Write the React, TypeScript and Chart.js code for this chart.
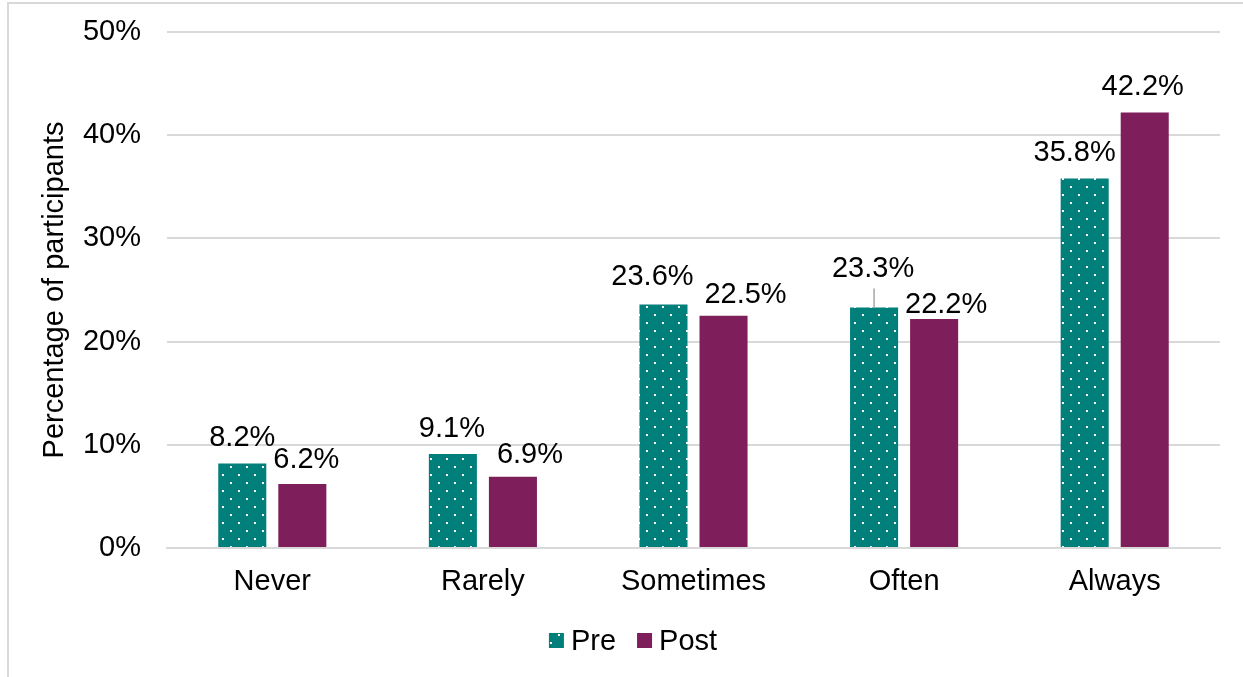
import { useEffect, useRef } from "react";
import { Chart, registerables } from "chart.js";

Chart.register(...registerables);

// ---- data ----
const categories = ["Never", "Rarely", "Sometimes", "Often", "Always"];
const seriesNames = ["Pre", "Post"];
const preValues = [8.2, 9.1, 23.6, 23.3, 35.8];
const postValues = [6.2, 6.9, 22.5, 22.2, 42.2];
const yMin = 0;
const yMax = 50;
const yStep = 10;
const yTitle = "Percentage of participants";

// ---- style ----
const FONT = "'Liberation Sans', Arial, Helvetica, sans-serif";
const FONT_SIZE = 29;
const TEXT_COLOR = "#000000";
const GRID_COLOR = "#d9d9d9";
const PRE_COLOR = "#007f7b";
const POST_COLOR = "#7e1e5a";
const FRAME_LEFT = 7;
const FRAME_TOP = 2;
const FRAME_WIDTH = 1252;

// Per-label nudges [dx, dy] for value labels, plus leader-line flags
const labelNudges: [number, number][][] = [
  [[0, 0], [-1, 0], [-11, -2], [-1, -14], [-10, -1]],
  [[4, 1], [17, 3], [22, 4], [12, 11], [-2, 0]],
];
const leaderLines: boolean[][] = [
  [false, false, false, true, false],
  [false, false, false, false, false],
];

function makeDotPattern(ctx: CanvasRenderingContext2D): CanvasPattern | string {
  const tile = document.createElement("canvas");
  tile.width = 16;
  tile.height = 16;
  const t = tile.getContext("2d");
  if (!t) return PRE_COLOR;
  t.fillStyle = PRE_COLOR;
  t.fillRect(0, 0, 16, 16);
  t.fillStyle = "#ffffff";
  t.fillRect(6, 2, 2, 2);
  t.fillRect(14, 10, 2, 2);
  return ctx.createPattern(tile, "repeat") || PRE_COLOR;
}

const valueLabelPlugin = {
  id: "valueLabels",
  afterDatasetsDraw(chart: any) {
    const ctx: CanvasRenderingContext2D = chart.ctx;
    ctx.save();
    ctx.font = `${FONT_SIZE}px ${FONT}`;
    ctx.fillStyle = TEXT_COLOR;
    ctx.textAlign = "center";
    ctx.textBaseline = "alphabetic";
    chart.data.datasets.forEach((ds: any, di: number) => {
      const meta = chart.getDatasetMeta(di);
      meta.data.forEach((bar: any, i: number) => {
        const v = ds.data[i];
        const [dx, dy] = labelNudges[di][i];
        const x = bar.x + dx;
        const y = bar.y - 17 + dy;
        if (leaderLines[di][i]) {
          ctx.save();
          ctx.strokeStyle = "#a6a6a6";
          ctx.lineWidth = 1.5;
          ctx.beginPath();
          ctx.moveTo(bar.x, y + 12);
          ctx.lineTo(bar.x, bar.y);
          ctx.stroke();
          ctx.restore();
        }
        ctx.fillText(`${v.toFixed(1)}%`, x, y);
      });
    });
    ctx.restore();
  },
};

const customLegendPlugin = {
  id: "customLegend",
  afterDraw(chart: any) {
    const ctx: CanvasRenderingContext2D = chart.ctx;
    ctx.save();
    ctx.font = `${FONT_SIZE}px ${FONT}`;
    const box = 15;
    const gapText = 7;
    const gapItem = 21;
    const widths = chart.data.datasets.map((d: any) => ctx.measureText(d.label).width);
    let total = 0;
    widths.forEach((w: number, i: number) => {
      total += box + gapText + w + (i < widths.length - 1 ? gapItem : 0);
    });
    const centerX = FRAME_LEFT + FRAME_WIDTH / 2;
    const baseline = 649.5;
    let x = centerX - total / 2;
    chart.data.datasets.forEach((d: any, i: number) => {
      ctx.fillStyle = d.backgroundColor;
      ctx.fillRect(x, baseline - 16.5, box, box);
      x += box + gapText;
      ctx.fillStyle = TEXT_COLOR;
      ctx.textAlign = "left";
      ctx.textBaseline = "alphabetic";
      ctx.fillText(d.label, x, baseline);
      x += widths[i] + gapItem;
    });
    ctx.restore();
  },
};

export default function App() {
  const canvasRef = useRef<HTMLCanvasElement | null>(null);

  useEffect(() => {
    const canvas = canvasRef.current;
    if (!canvas) return;
    const ctx = canvas.getContext("2d");
    if (!ctx) return;
    Chart.defaults.font.family = FONT;
    Chart.defaults.font.size = FONT_SIZE;
    Chart.defaults.color = TEXT_COLOR;

    const chart = new Chart(canvas, {
      type: "bar",
      data: {
        labels: categories,
        datasets: [
          {
            label: seriesNames[0],
            data: preValues,
            backgroundColor: makeDotPattern(ctx) as any,
            borderWidth: 0,
            categoryPercentage: 0.5703,
            barPercentage: 0.8,
          },
          {
            label: seriesNames[1],
            data: postValues,
            backgroundColor: POST_COLOR,
            borderWidth: 0,
            categoryPercentage: 0.5703,
            barPercentage: 0.8,
          },
        ],
      },
      options: {
        responsive: false,
        animation: false,
        devicePixelRatio: 1,
        layout: { padding: { left: 30, right: 23, top: 32, bottom: 0 } },
        plugins: {
          legend: { display: false },
          tooltip: { enabled: false },
        },
        scales: {
          x: {
            grid: { display: false, drawTicks: false },
            border: { display: true, color: GRID_COLOR, width: 2 },
            ticks: { padding: 17, color: TEXT_COLOR, font: { size: FONT_SIZE } },
            afterFit: (scale: any) => {
              scale.height = 129;
            },
          },
          y: {
            min: yMin,
            max: yMax,
            grid: {
              color: GRID_COLOR,
              lineWidth: 2,
              drawTicks: true,
              tickLength: 26,
              tickColor: "rgba(0,0,0,0)",
            },
            border: { display: false },
            ticks: {
              stepSize: yStep,
              padding: 0,
              color: TEXT_COLOR,
              font: { size: FONT_SIZE },
              callback: (v: any) => `${v}%`,
            },
            title: {
              display: true,
              text: yTitle,
              color: TEXT_COLOR,
              font: { size: FONT_SIZE },
              padding: { top: 8, bottom: 0 },
            },
            afterFit: (scale: any) => {
              scale.width = 137;
            },
          },
        },
      },
      plugins: [valueLabelPlugin, customLegendPlugin],
    });
    return () => chart.destroy();
  }, []);

  return (
    <div style={{ position: "fixed", left: 0, top: 0, width: 1243, height: 677, background: "#ffffff", overflow: "hidden" }}>
      <div
        style={{
          position: "absolute",
          left: FRAME_LEFT,
          top: FRAME_TOP,
          width: FRAME_WIDTH,
          height: 720,
          borderLeft: `2px solid ${GRID_COLOR}`,
          borderTop: `2px solid ${GRID_COLOR}`,
          boxSizing: "border-box",
        }}
      />
      <canvas
        ref={canvasRef}
        width={1243}
        height={677}
        style={{ position: "absolute", left: 0, top: 0, width: 1243, height: 677 }}
      />
    </div>
  );
}
